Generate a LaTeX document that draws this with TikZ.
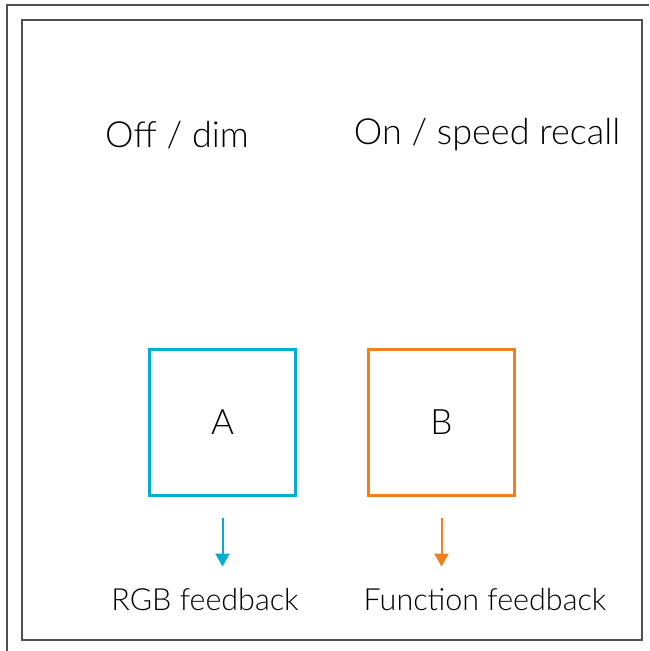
\documentclass[tikz,border=0pt]{standalone}
\usepackage{fontspec}
\setmainfont{Lato Light}
\usepackage{xcolor}
\usetikzlibrary{arrows.meta,positioning}
\definecolor{SwitchCyan}{HTML}{00AECF}
\definecolor{SwitchOrange}{HTML}{F07F1D}
\definecolor{FrameGrey}{HTML}{505050}
\tikzset{
  keybox/.style={draw, line width=2.6pt, minimum width=146pt, minimum height=146pt, inner sep=0pt, font=\fontsize{35}{35}\selectfont},
  headtext/.style={inner sep=0pt, font=\fontsize{36}{36}\selectfont},
  feedtext/.style={inner sep=0pt, font=\fontsize{30.5}{30.5}\selectfont},
  feedarrow/.style={-{Triangle[length=13pt, width=14pt]}, line width=2pt}
}
\begin{document}
\begin{tikzpicture}[x=1pt, y=-1pt]
    \useasboundingbox (0,0) rectangle (649,651);
    % frames
    \draw[FrameGrey, line width=1.2pt] (649,5) -- (7,5) -- (7,651);
    \draw[FrameGrey, line width=1.6pt] (22,20) rectangle (642,640);

    \node[headtext] (offdim) at (177,135) {Off / dim};
    \node[headtext] (onspeed) at (487,135) {On / speed recall};

    \node[keybox, draw=SwitchCyan] (keyA) at (222.5,422.5) {A};
    \node[keybox, draw=SwitchOrange] (keyB) at (441.5,422.5) {B};

    \node[feedtext] (rgbfb) at (205,600) {RGB feedback};
    \node[feedtext] (funcfb) at (485,600) {Function feedback};

    \draw[feedarrow, SwitchCyan, shorten <=21pt, shorten >=22pt] (keyA.south) -- (keyA.south |- rgbfb.north);
    \draw[feedarrow, SwitchOrange, shorten <=21pt, shorten >=22pt] (keyB.south) -- (keyB.south |- funcfb.north);
\end{tikzpicture}
\end{document}
